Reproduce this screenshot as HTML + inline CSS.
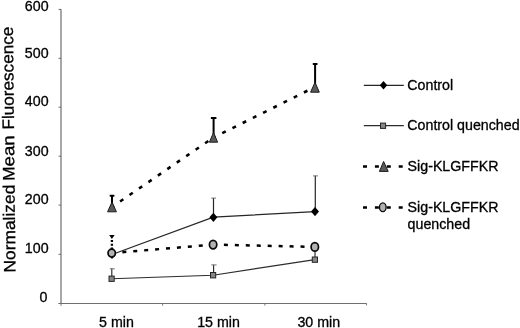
<!DOCTYPE html>
<html><head><meta charset="utf-8"><title>Normalized Mean Fluorescence</title>
<style>
html,body{margin:0;padding:0;background:#fff;}
body{width:520px;height:328px;overflow:hidden;}
svg{display:block;will-change:transform;transform:translateZ(0);}
text{font-family:"Liberation Sans",Arial,Helvetica,sans-serif;fill:#000;stroke:#000;stroke-width:.3px;}
.t{font-size:14.22px;}
</style></head><body>
<svg width="520" height="328" viewBox="0 0 520 328">
<rect width="520" height="328" fill="#fff"/>
<!-- axes -->
<g stroke="#686868" fill="none">
<path d="M61 9.2V303.5" stroke-width="1.15"/>
<path d="M60.4 303.5H366.8" stroke-width="1" stroke="#707070"/>
<path d="M58.6 9.4H61M58.6 58.3H61M58.6 107.2H61M58.6 156.2H61M58.6 205.1H61M58.6 254.3H61M58.4 303.5H61" stroke-width="1"/>
<path d="M61 303.5V305.8M162.6 303.5V305.6M264.9 303.5V305.6M366.5 303.5V305.4" stroke-width="1" stroke="#777"/>
</g>
<!-- y tick labels -->
<g class="t" text-anchor="end">
<text x="48.6" y="10.9">600</text>
<text x="48.6" y="57.9">500</text>
<text x="48.6" y="105.9">400</text>
<text x="48.6" y="155.6">300</text>
<text x="48.6" y="204.4">200</text>
<text x="48.6" y="252.8">100</text>
<text x="47.5" y="301.9">0</text>
</g>
<!-- x labels -->
<g class="t" text-anchor="middle">
<text x="116.5" y="327.2">5 min</text>
<text x="218.5" y="327.2">15 min</text>
<text x="318.8" y="327.2">30 min</text>
</g>
<!-- y axis title -->
<g font-size="16.6">
<text transform="translate(15.4,272.42) rotate(-90.56) scale(1.046,1)">Normalized</text>
<text transform="translate(14.51,180.85) rotate(-90.56) scale(1.035,1)">M</text>
<text transform="translate(14.37,166.55) rotate(-90.56) scale(1.133,1)">ean</text>
<text transform="translate(14,129.59) rotate(-90.56) scale(1.034,1)">Fluorescence</text>
</g>

<!-- series: Control quenched (squares) -->
<g stroke="#2c2c2c" stroke-width="1.15" fill="none">
<path d="M111.6 278.8L213.1 275.2L314.9 259.6"/>
<path d="M111.8 278V268.6M213.6 275V264.7"/>
<path d="M109.8 268.8H114.8M211.2 264.9H216.6" stroke="#666" stroke-width=".9"/>
<path d="M315 259V247"/>
</g>
<g fill="#868686" stroke="#262626" stroke-width="1">
<rect x="109" y="276.1" width="5.2" height="5.3"/>
<rect x="210.5" y="272.5" width="5.2" height="5.4"/>
<rect x="312.3" y="257" width="5.2" height="5.3"/>
</g>

<!-- series: Control (diamonds) -->
<g stroke="#262626" stroke-width="1.2" fill="none">
<path d="M112 254.5L213.4 217.2L315 211.6"/>
<path d="M213.5 217V197.9M315.3 211V175.7"/>
<path d="M211.2 198.1H216M313 175.9H318" stroke="#666" stroke-width=".9"/>
</g>
<g fill="#000">
<path d="M112 249.9L116.0 254.5L112 259.1L108.0 254.5Z"/>
<path d="M213.4 212.7L217.4 217.3L213.4 221.9L209.4 217.3Z"/>
<path d="M315 207.0L319.0 211.6L315 216.2L311.0 211.6Z"/>
</g>

<!-- series: Sig-KLGFFKR (triangles) -->
<g stroke="#000" fill="none">
<path d="M112 207L213.5 137.5" stroke-width="2.6" stroke-dasharray="3.9 7.55" stroke-dashoffset="1.65"/>
<path d="M213.5 137.5L315 87" stroke-width="2.6" stroke-dasharray="3.9 7.5" stroke-dashoffset="1.6"/>
<path d="M112 204V195.6M109.7 195.7H114.4" stroke-width="2"/>
<path d="M213.6 134V117.8M210.9 117.9H216.4" stroke-width="2"/>
<path d="M315.1 84V64M312.8 64.1H317.5" stroke-width="2"/>
</g>
<g fill="#5a5a5a" stroke="#1a1a1a" stroke-width="1">
<path d="M112 202L116.4 211.8H107.6Z"/>
<path d="M213.5 132.5L217.6 142.2H209.4Z"/>
<path d="M315 82.3L319.3 92.2H310.6Z"/>
</g>

<!-- series: Sig-KLGFFKR quenched (circles) -->
<g stroke="#000" fill="none">
<path d="M111.6 253.1L213.1 244.6" stroke-width="2.5" stroke-dasharray="4 6.95" stroke-dashoffset="0.15"/>
<path d="M213.1 244.6L314.8 246.9" stroke-width="2.5" stroke-dasharray="4 6.95" stroke-dashoffset="0.15"/>
<path d="M111.9 240V250" stroke-width="2.3" stroke-dasharray="1.9 1.85"/>
</g>
<path d="M109.2 234.9H114.6L111.9 238.9Z" fill="#000"/>
<g fill="#b2b2b2" stroke="#0a0a0a" stroke-width="1.7">
<ellipse cx="111.7" cy="253.1" rx="3.7" ry="3.9"/>
<ellipse cx="213.1" cy="244.6" rx="3.7" ry="4.3"/>
<ellipse cx="314.8" cy="246.9" rx="3.7" ry="4.3"/>
</g>

<!-- legend -->
<g font-size="14.22">
<path d="M363.8 85.3H403.8" stroke="#262626" stroke-width="1.25"/>
<path d="M383.5 81L387.2 85.3L383.5 89.6L379.8 85.3Z" fill="#000"/>
<text x="407.3" y="90.1">Control</text>

<path d="M363.8 125.7H403.8" stroke="#2c2c2c" stroke-width="1.2"/>
<rect x="380.5" y="123.1" width="5.1" height="5.3" fill="#868686" stroke="#262626" stroke-width="1"/>
<text x="407.3" y="130.4">Control quenched</text>

<path d="M363 166.6H404" stroke="#000" stroke-width="2.5" stroke-dasharray="4 7.9"/>
<path d="M383.6 161.5L388.2 171.4H379.4Z" fill="#5a5a5a" stroke="#1a1a1a" stroke-width="1"/>
<text x="407.6" y="171.3">Sig-KLGFFKR</text>

<path d="M363 207.5H404" stroke="#000" stroke-width="2.5" stroke-dasharray="4 7.9"/>
<ellipse cx="382.8" cy="207.3" rx="3.3" ry="4.4" fill="#b2b2b2" stroke="#0a0a0a" stroke-width="1.3"/>
<text x="407.6" y="212">Sig-KLGFFKR</text>
<text x="407.6" y="228.7">quenched</text>
</g>
</svg>
</body></html>
